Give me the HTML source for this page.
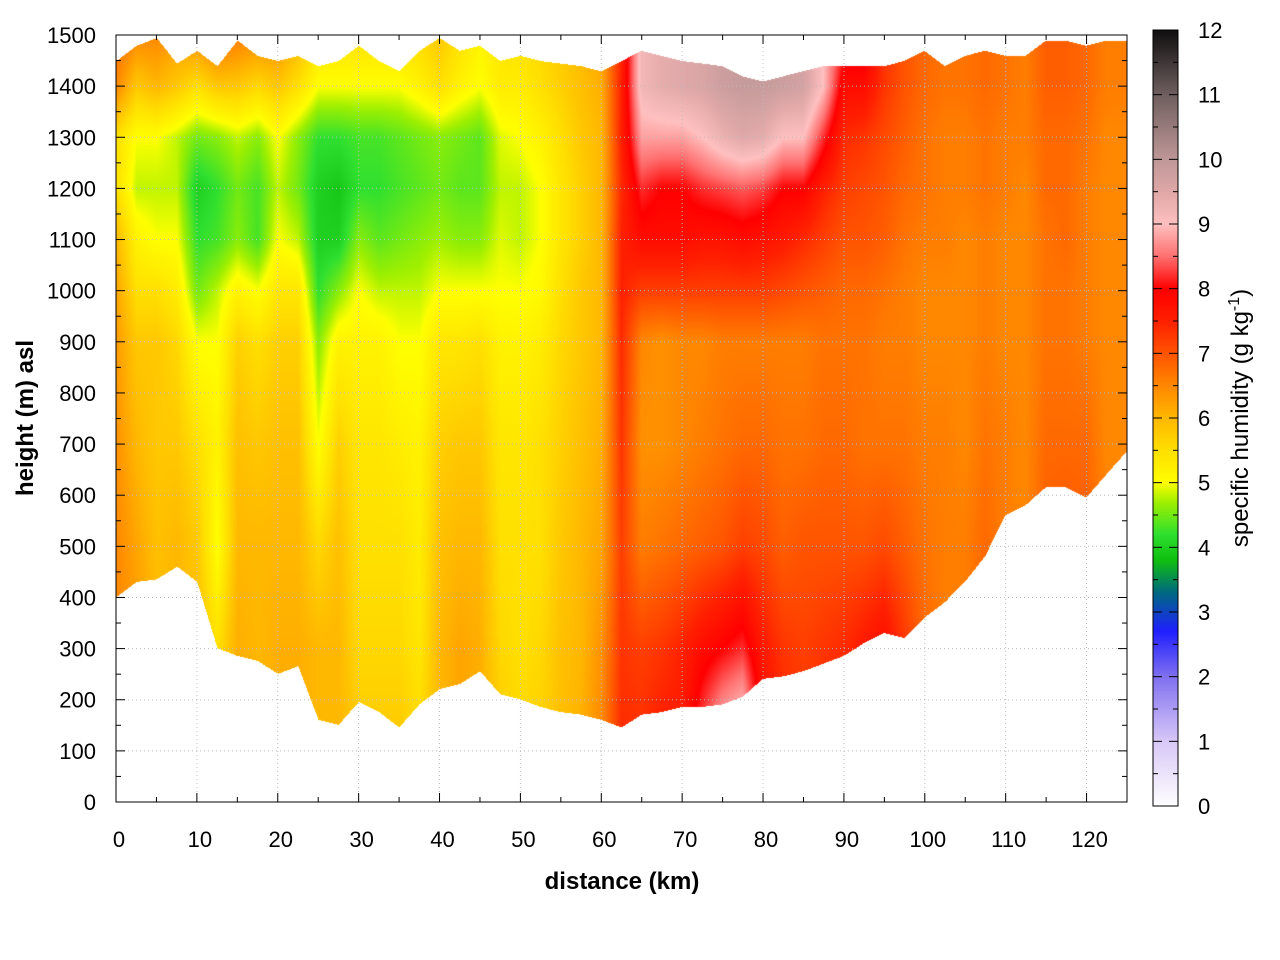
<!DOCTYPE html>
<html><head><meta charset="utf-8">
<style>
body{margin:0;background:#fff;width:1280px;height:960px;overflow:hidden;font-family:"Liberation Sans",sans-serif;}
#wrap{position:relative;width:1280px;height:960px;}
canvas{position:absolute;}
svg{position:absolute;left:0;top:0;}
</style></head><body>
<div id="wrap">
<canvas id="plot" width="1011" height="767" style="left:116px;top:35px"></canvas>
<canvas id="cbar" width="25" height="776" style="left:1153px;top:30px"></canvas>
<svg id="ax" width="1280" height="960"></svg>
</div>
<script>
const distances=[0,2.5,5,7.5,10,12.5,15,17.5,20,22.5,25,27.5,30,32.5,35,37.5,40,42.5,45,47.5,50,52.5,55,57.5,60,62.5,65,67.5,70,72.5,75,77.5,80,82.5,85,87.5,90,92.5,95,97.5,100,102.5,105,107.5,110,112.5,115,117.5,120,122.5,125];
const levels=[100,300,500,700,900,1000,1100,1200,1300,1400,1500];
const ground=[400,430,435,460,430,300,285,275,250,265,160,150,195,175,145,190,220,230,255,210,200,185,175,170,160,145,170,175,185,185,190,205,240,245,255,270,285,310,330,320,360,390,430,480,560,580,615,615,595,640,685];
const topH=[1450,1480,1495,1445,1470,1440,1490,1460,1450,1460,1440,1450,1480,1450,1430,1470,1495,1470,1480,1450,1460,1450,1445,1440,1430,1450,1470,1460,1450,1445,1440,1420,1410,1420,1430,1440,1440,1440,1440,1450,1470,1440,1460,1470,1460,1460,1490,1490,1480,1490,1490];
const humidity=[
[6.5,6.5,6.5,6.4,6.3,6.2,6.0,5.5,5.5,6.5,6.8],
[6.3,6.3,6.2,6.0,5.8,5.5,5.2,4.8,5.0,5.8,6.5],
[6.0,6.0,5.9,5.8,5.8,5.5,5.0,4.8,5.0,6.0,6.5],
[6.0,6.0,6.0,5.8,5.6,5.3,5.0,4.8,4.8,5.8,6.3],
[6.0,6.0,5.8,5.5,5.0,4.5,4.2,4.0,4.5,5.5,6.5],
[6.0,5.5,5.0,5.2,5.0,4.8,4.3,4.2,4.6,5.8,6.8],
[6.2,6.1,6.0,5.9,5.7,5.2,4.6,4.5,4.8,5.8,6.6],
[6.1,6.0,6.0,5.8,5.5,5.0,4.3,4.3,4.6,5.6,6.5],
[6.1,6.1,6.0,5.9,5.7,5.4,5.0,4.8,5.0,5.8,6.5],
[6.1,6.1,6.0,5.9,5.7,5.4,4.8,4.5,4.6,5.5,6.0],
[6.0,6.0,5.6,5.0,4.6,4.2,4.0,4.0,4.2,5.0,5.5],
[6.0,6.0,5.9,5.7,5.2,4.6,4.0,3.9,4.2,5.0,5.5],
[5.8,5.6,5.5,5.4,5.2,5.0,4.6,4.2,4.3,5.0,5.5],
[5.8,5.6,5.5,5.4,5.2,4.8,4.4,4.2,4.3,5.0,5.5],
[5.8,5.6,5.5,5.3,5.0,4.8,4.5,4.3,4.4,5.0,5.5],
[5.6,5.4,5.3,5.2,5.0,4.8,4.6,4.4,4.5,5.2,5.6],
[6.0,6.0,5.9,5.7,5.4,5.0,4.7,4.5,4.6,5.5,5.8],
[6.2,6.2,6.0,5.8,5.4,5.0,4.6,4.4,4.5,5.2,5.5],
[6.1,6.1,6.0,5.8,5.5,5.0,4.6,4.4,4.4,5.0,5.2],
[5.8,5.6,5.5,5.4,5.2,5.0,4.9,4.8,4.9,5.3,5.4],
[5.6,5.5,5.5,5.4,5.2,5.0,4.8,4.8,5.0,5.3,5.5],
[5.7,5.6,5.5,5.5,5.3,5.1,5.0,5.0,5.2,5.5,5.6],
[5.9,5.9,5.8,5.7,5.6,5.5,5.4,5.4,5.5,5.7,5.8],
[6.1,6.0,6.0,5.9,5.8,5.8,5.7,5.7,5.8,5.9,6.0],
[6.5,6.4,6.2,6.1,6.0,6.0,6.0,6.0,6.0,6.1,6.2],
[7.4,7.3,7.2,7.3,7.4,7.5,7.5,7.4,7.5,7.5,7.5],
[7.4,7.2,6.6,6.4,6.5,7.2,7.8,8.2,8.8,9.2,9.2],
[7.6,7.3,6.7,6.4,6.4,7.2,7.8,8.0,8.8,9.4,9.4],
[7.6,7.5,6.8,6.5,6.5,7.2,7.8,8.0,8.8,9.5,9.5],
[8.5,7.8,6.9,6.6,6.5,7.2,7.7,8.2,9.0,9.6,9.6],
[9.2,8.0,7.0,6.7,6.6,7.2,7.7,8.3,9.3,9.8,9.8],
[9.5,8.2,7.2,6.8,6.6,7.2,7.8,8.4,9.5,9.9,9.9],
[7.8,7.6,7.1,6.8,6.6,7.2,7.7,8.3,9.4,9.9,9.9],
[7.5,7.3,6.9,6.7,6.6,7.1,7.6,8.0,9.0,9.8,9.8],
[7.3,7.2,7.0,6.7,6.6,7.0,7.4,8.0,9.0,9.7,9.7],
[7.4,7.3,7.0,6.8,6.7,6.9,7.2,7.5,8.2,9.0,9.0],
[7.5,7.4,7.0,6.8,6.7,6.8,7.0,7.2,7.4,7.8,8.3],
[7.7,7.6,7.0,6.7,6.7,6.8,7.0,7.1,7.3,7.8,8.3],
[7.9,7.8,7.1,6.7,6.6,6.7,6.9,7.0,7.1,7.3,7.3],
[7.7,7.3,6.9,6.7,6.6,6.6,6.7,6.8,6.9,7.0,7.0],
[6.8,6.8,6.7,6.6,6.5,6.5,6.6,6.7,6.7,6.8,6.8],
[6.6,6.6,6.6,6.6,6.5,6.5,6.6,6.6,6.6,6.7,6.7],
[6.6,6.6,6.6,6.5,6.5,6.5,6.5,6.6,6.6,6.7,6.7],
[6.8,6.8,6.8,6.7,6.6,6.6,6.6,6.7,6.7,6.8,6.8],
[6.6,6.6,6.6,6.6,6.5,6.5,6.5,6.6,6.6,6.7,6.7],
[6.5,6.5,6.5,6.5,6.5,6.5,6.5,6.5,6.6,6.6,6.6],
[6.9,6.9,6.9,6.8,6.7,6.7,6.7,6.8,6.8,6.9,6.9],
[7.0,7.0,7.0,6.8,6.7,6.7,6.8,6.8,6.8,6.9,6.9],
[6.9,6.9,6.9,6.8,6.6,6.6,6.6,6.6,6.7,6.8,6.8],
[6.6,6.6,6.6,6.5,6.5,6.5,6.5,6.5,6.5,6.6,6.6],
[6.6,6.6,6.6,6.5,6.5,6.5,6.5,6.5,6.5,6.6,6.6]];
const xTicks=[0,10,20,30,40,50,60,70,80,90,100,110,120];
const yTicks=[0,100,200,300,400,500,600,700,800,900,1000,1100,1200,1300,1400,1500];
const cTicks=[0,1,2,3,4,5,6,7,8,9,10,11,12];

const L=116,T=35,R=1127,B=802,XMAX=125,YMAX=1500;
const xs=k=>L+k*(R-L)/XMAX, ys=m=>B-m*(B-T)/YMAX;
const stops=[[0,255,255,255],[1,216,200,248],[2,128,112,240],[2.7,32,32,255],[3.3,0,106,128],[3.8,16,192,16],[4.2,48,224,48],[4.7,160,240,0],[5,255,255,0],[5.5,255,224,0],[6,255,184,0],[6.5,255,136,0],[7,255,84,0],[7.5,255,32,0],[8,255,0,0],[8.5,255,112,112],[9,255,192,192],[9.5,224,168,168],[10,192,152,152],[11,112,96,96],[12,16,16,16]];
function cmap(v){if(v<=0)return stops[0].slice(1);if(v>=12)return stops[stops.length-1].slice(1);
for(let i=1;i<stops.length;i++){if(v<=stops[i][0]){const a=stops[i-1],b=stops[i],t=(v-a[0])/(b[0]-a[0]);return [a[1]+(b[1]-a[1])*t,a[2]+(b[2]-a[2])*t,a[3]+(b[3]-a[3])*t];}}}
function interp1(xa,ya,x){if(x<=xa[0])return ya[0];for(let i=1;i<xa.length;i++){if(x<=xa[i]){const t=(x-xa[i-1])/(xa[i]-xa[i-1]);return ya[i-1]+(ya[i]-ya[i-1])*t;}}return ya[ya.length-1];}
const pc=document.getElementById('plot'),ctx=pc.getContext('2d');
const W=pc.width,H=pc.height,img=ctx.createImageData(W,H);
for(let px=0;px<W;px++){
 const km=px*XMAX/(W-1);
 const g=interp1(distances,ground,km),tp=interp1(distances,topH,km);
 let i=0;while(i<distances.length-2&&km>distances[i+1])i++;
 const t=(km-distances[i])/(distances[i+1]-distances[i]);
 const col=levels.map((_,j)=>humidity[i][j]*(1-t)+humidity[i+1][j]*t);
 for(let py=0;py<H;py++){
  const m=(H-1-py)*YMAX/(H-1);
  if(m<g||m>tp)continue;
  const c=cmap(interp1(levels,col,m)),o=(py*W+px)*4;
  img.data[o]=c[0];img.data[o+1]=c[1];img.data[o+2]=c[2];img.data[o+3]=255;
 }}
ctx.putImageData(img,0,0);
const cc=document.getElementById('cbar').getContext('2d');
for(let py=0;py<776;py++){const c=cmap(12*(775-py)/775);cc.fillStyle='rgb('+(c[0]|0)+','+(c[1]|0)+','+(c[2]|0)+')';cc.fillRect(0,py,25,1);}
const svg=document.getElementById('ax'),NS='http://www.w3.org/2000/svg';
function mk(tag,attrs){const e=document.createElementNS(NS,tag);for(const k in attrs)e.setAttribute(k,attrs[k]);svg.appendChild(e);return e;}
function txt(s,x,y,attrs){const e=mk('text',Object.assign({x:x,y:y,'font-size':22,fill:'#000','font-family':'Liberation Sans, sans-serif'},attrs));e.textContent=s;return e;}
xTicks.forEach(v=>{const x=xs(v);
 if(v>0){const gl=mk('line',{x1:x,x2:x,y1:T,y2:B,stroke:'#bbb','stroke-dasharray':'1,3'});
  
  }
 const tk=mk('line',{x1:x,x2:x,y1:B,y2:B-9,stroke:'#000'});
 
 
 mk('line',{x1:x,x2:x,y1:T,y2:T+9,stroke:'#000'});
 const lb=txt(String(v),x+3,847,{'text-anchor':'middle'});
 
 });
for(let v=5;v<XMAX;v+=10){const x=xs(v);mk('line',{x1:x,x2:x,y1:B,y2:B-5,stroke:'#000'});mk('line',{x1:x,x2:x,y1:T,y2:T+5,stroke:'#000'});}
yTicks.forEach(v=>{const y=ys(v);
 if(v>0&&v<YMAX){const gl=mk('line',{x1:L,x2:R,y1:y,y2:y,stroke:'#bbb','stroke-dasharray':'1,3'});
  
  }
 const tk=mk('line',{x1:L,x2:L+9,y1:y,y2:y,stroke:'#000'});
 
 
 mk('line',{x1:R,x2:R-9,y1:y,y2:y,stroke:'#000'});
 const lb=txt(String(v),96,y+8,{'text-anchor':'end'});
 
 });
for(let v=50;v<YMAX;v+=100){const y=ys(v);mk('line',{x1:L,x2:L+5,y1:y,y2:y,stroke:'#000'});mk('line',{x1:R,x2:R-5,y1:y,y2:y,stroke:'#000'});}
const fr=mk('rect',{x:L,y:T,width:R-L,height:B-T,fill:'none',stroke:'#000'});


const cf=mk('rect',{x:1153,y:30,width:25,height:776,fill:'none',stroke:'#000'});


cTicks.forEach(v=>{const y=806-v*776/12;
 mk('line',{x1:1153,x2:1162,y1:y,y2:y,stroke:'#000'});mk('line',{x1:1178,x2:1169,y1:y,y2:y,stroke:'#000'});
 const lb=txt(String(v),1198,y+8,{});
 
 });
for(let k=1;k<24;k+=2){const y=806-k*0.5*776/12;mk('line',{x1:1153,x2:1158,y1:y,y2:y,stroke:'#000'});mk('line',{x1:1178,x2:1173,y1:y,y2:y,stroke:'#000'});}
const xl=txt('distance (km)',622,889,{'text-anchor':'middle','font-weight':'bold','font-size':24});


const yl=txt('height (m) asl',0,0,{'text-anchor':'middle','font-weight':'bold','font-size':24,transform:'translate(33,418) rotate(-90)'});


const cl=mk('text',{x:0,y:0,'font-size':24,'text-anchor':'middle','font-family':'Liberation Sans, sans-serif',transform:'translate(1248,418) rotate(-90)'});


cl.innerHTML='specific humidity (g kg<tspan dy="-9" font-size="16">-1</tspan><tspan dy="9">)</tspan>';
</script>
</body></html>
